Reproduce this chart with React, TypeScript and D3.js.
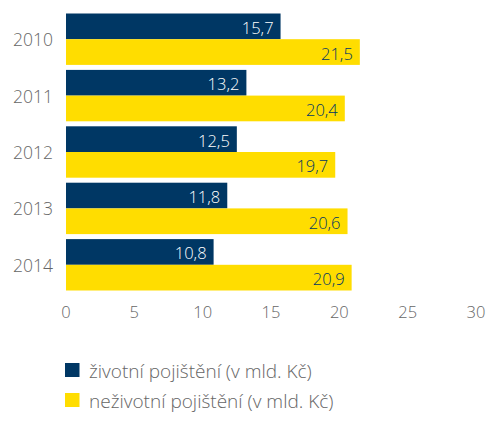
import React from "react";
import * as d3 from "d3";

const years = ["2010", "2011", "2012", "2013", "2014"];
const zivotni = [15.7, 13.2, 12.5, 11.8, 10.8];
const nezivotni = [21.5, 20.4, 19.7, 20.6, 20.9];
const seriesNames = ["životní pojištění (v mld. Kč)", "neživotní pojištění (v mld. Kč)"];
const xTicks = [0, 5, 10, 15, 20, 25, 30];

const NAVY = "#003764";
const YELLOW = "#FFDD00";
const GRAY = "#666666";
const FONT = "'Open Sans', 'Noto Sans', sans-serif";

export default function App() {
  const W = 500, H = 424;
  const x = d3.scaleLinear().domain([0, 30]).range([66, 476]);
  const y = d3.scaleBand<string>().domain(years).range([11, 293]).paddingInner(0.0887).paddingOuter(0.0443);
  const inner = d3.scaleBand<string>().domain(["z", "n"]).range([0, y.bandwidth()]);
  const fmt = (v: number) => v.toFixed(1).replace(".", ",");
  const series = [
    { key: "z", values: zivotni, fill: NAVY, text: "#ffffff" },
    { key: "n", values: nezivotni, fill: YELLOW, text: NAVY },
  ];
  return (
    <svg width={W} height={H} style={{ position: "absolute", left: 0, top: 0, fontFamily: FONT }}>
      <rect width={W} height={H} fill="#fff" />
      {years.map((yr, i) => (
        <g key={yr}>
          <text x={53} y={(y(yr) as number) + y.bandwidth() / 2} textAnchor="end" dominantBaseline="central" fontSize={17.5} fill={GRAY} fontWeight={300}>
            {yr}
          </text>
          {series.map((s) => {
            const v = s.values[i];
            const by = (y(yr) as number) + (inner(s.key) as number);
            return (
              <g key={s.key}>
                <rect x={x(0)} y={by} width={x(v) - x(0)} height={inner.bandwidth()} fill={s.fill} />
                <text x={x(v) - 7} y={by + inner.bandwidth() / 2 + 1} textAnchor="end" dominantBaseline="central" fontSize={16.5} fill={s.text} fontWeight={300}>
                  {fmt(v)}
                </text>
              </g>
            );
          })}
        </g>
      ))}
      {xTicks.map((t) => (
        <text key={t} x={x(t)} y={311.5} textAnchor="middle" dominantBaseline="central" fontSize={16.5} fill={GRAY} fontWeight={300}>
          {t}
        </text>
      ))}
      {seriesNames.map((name, i) => (
        <g key={name} transform={`translate(65, ${363 + i * 30})`}>
          <rect x={0} y={0} width={14.5} height={14} fill={i === 0 ? NAVY : YELLOW} />
          <text x={24} y={7.5} dominantBaseline="central" fontSize={19} fill={GRAY} fontWeight={300}>
            {name}
          </text>
        </g>
      ))}
    </svg>
  );
}
